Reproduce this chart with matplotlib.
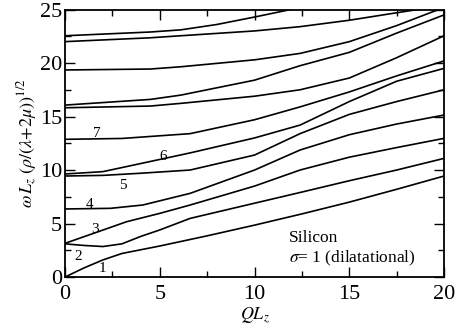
import matplotlib
matplotlib.use("Agg")
import matplotlib.pyplot as plt
from matplotlib.ticker import MultipleLocator

plt.rcParams['font.family'] = ['Liberation Serif', 'DejaVu Serif']
plt.rcParams['mathtext.fontset'] = 'stix'

# dispersion branches: (QL_z, omega L_z (rho/(lambda+2mu))^1/2)
c1_x = [0, 1, 2, 3, 5, 7.5, 10, 12.5, 15, 17.5, 20]
c1_y = [0, 0.85, 1.6, 2.2, 2.9, 3.85, 4.85, 5.9, 7.0, 8.2, 9.44]
c2_x = [0, 1, 2, 3, 4, 5, 6.6, 10, 12.4, 15, 17.5, 20]
c2_y = [3.1, 2.95, 2.85, 3.1, 3.8, 4.4, 5.48, 6.9, 7.9, 9.0, 10.0, 11.09]
c3_x = [0, 1.5, 3.25, 5, 6.6, 10, 12.4, 15, 17.5, 20]
c3_y = [3.15, 4.08, 5.17, 5.95, 6.73, 8.5, 10.0, 11.2, 12.1, 12.96]
c4_x = [0, 2.4, 4.1, 6.6, 10, 12.4, 15, 17.5, 20]
c4_y = [6.36, 6.42, 6.73, 7.82, 10.0, 11.87, 13.3, 14.3, 15.14]
c5_x = [0, 2, 4, 6.6, 10, 12.4, 15, 17.5, 20]
c5_y = [9.44, 9.5, 9.7, 10.0, 11.4, 13.4, 15.2, 16.4, 17.5]
c6_x = [0, 2, 4.5, 6.6, 10, 12.4, 15, 17.5, 20]
c6_y = [9.63, 9.85, 10.8, 11.6, 13.0, 14.2, 16.4, 18.3, 19.5]
c7_x = [0, 3, 6.6, 10, 12.4, 15, 17.5, 20]
c7_y = [12.87, 12.95, 13.4, 14.7, 15.9, 17.3, 18.8, 20.2]
c8_x = [0, 4.5, 6.1, 10, 12.4, 15, 17.5, 20]
c8_y = [15.82, 15.98, 16.23, 16.9, 17.5, 18.6, 20.5, 22.55]
c9_x = [0, 4.5, 6.1, 10, 12.4, 15, 17.5, 20]
c9_y = [16.07, 16.6, 17.0, 18.4, 19.75, 21.0, 22.8, 24.5]
c10_x = [0, 4.5, 6.1, 10, 12.4, 15, 17.5, 20]
c10_y = [19.35, 19.44, 19.65, 20.3, 20.9, 22.0, 23.5, 25.2]
c11_x = [0, 4.5, 6.1, 10, 12.4, 15, 17.5, 18.6]
c11_y = [22.0, 22.36, 22.55, 23.0, 23.4, 24.0, 24.7, 25.0]
c12_x = [0, 4.5, 6.1, 8, 10, 11.9]
c12_y = [22.55, 22.9, 23.1, 23.6, 24.3, 25.0]

branches = [(c1_x, c1_y), (c2_x, c2_y), (c3_x, c3_y), (c4_x, c4_y),
            (c5_x, c5_y), (c6_x, c6_y), (c7_x, c7_y), (c8_x, c8_y),
            (c9_x, c9_y), (c10_x, c10_y), (c11_x, c11_y), (c12_x, c12_y)]

mode_labels = ['1', '2', '3', '4', '5', '6', '7']
mode_label_x = [2.0, 0.7, 1.6, 1.3, 3.05, 5.2, 1.65]
mode_label_y = [0.84, 1.96, 4.4, 6.8, 8.6, 11.3, 13.4]

fig = plt.figure(figsize=(4.55, 3.29), dpi=100)
ax = fig.add_axes([0.143, 0.158, 0.833, 0.813])

for bx, by in branches:
    ax.plot(bx, by, color='black', lw=1.2, clip_on=True)

for t, tx, ty in zip(mode_labels, mode_label_x, mode_label_y):
    ax.text(tx, ty, t, fontsize=11, ha='center', va='center')

ax.text(11.8, 3.65, 'Silicon', fontsize=12.5, ha='left', va='center')
ax.text(11.8, 1.7, r'$\sigma$' + '= 1 (dilatational)', fontsize=12.5, ha='left', va='center')

ax.set_xlim(0, 20)
ax.set_ylim(0, 25)
ax.xaxis.set_major_locator(MultipleLocator(5))
ax.xaxis.set_minor_locator(MultipleLocator(2.5))
ax.yaxis.set_major_locator(MultipleLocator(5))
ax.yaxis.set_minor_locator(MultipleLocator(2.5))
ax.tick_params(which='both', direction='in', top=True, right=True, labelsize=16, width=1.0)
ax.tick_params(which='major', length=7)
ax.tick_params(which='minor', length=4)
ax.tick_params(axis='x', which='major', pad=6)
ax.tick_params(axis='y', which='major', pad=2)
for s in ax.spines.values():
    s.set_linewidth(1.3)

ax.set_xlabel(r'$QL_z$', fontsize=13, labelpad=1)
ax.set_ylabel(r'$\omega\, L_z\ (\rho/(\lambda{+}2\mu))^{1/2}$', fontsize=13, labelpad=0)

fig.savefig('out.png', dpi=100)
